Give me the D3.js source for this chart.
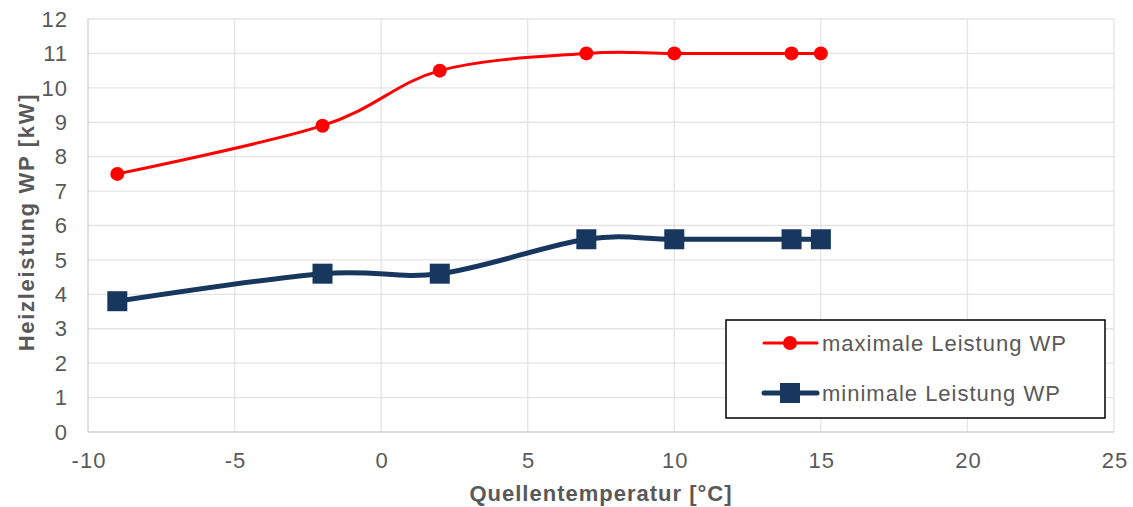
<!DOCTYPE html>
<html>
<head>
<meta charset="utf-8">
<script src="https://cdn.jsdelivr.net/npm/d3@7"></script>
<style>
  body { margin: 0; background: #fff; }
  svg text { font-family: "Liberation Sans", Arial, sans-serif; letter-spacing: 1px; }
</style>
</head>
<body>
<svg id="chart" width="1133" height="507"></svg>
<script>
// data
const temps = [-9, -2, 2, 7, 10, 14, 15];
const maxPower = [7.5, 8.9, 10.5, 11, 11, 11, 11];
const minPower = [3.8, 4.6, 4.6, 5.6, 5.6, 5.6, 5.6];
const xTicks = [-10, -5, 0, 5, 10, 15, 20, 25];
const yTicks = d3.range(0, 13);
const seriesNames = ['maximale Leistung WP', 'minimale Leistung WP'];

const svg = d3.select('svg#chart');

// plot area
const plotLeft = 88, plotRight = 1114, plotTop = 19, plotBottom = 432;
const fontSize = 22;
const gridColor = '#e4e4e4',
  axisColor = '#d0d0d0',
  labelColor = '#595959',
  red = '#ff0000',
  navy = '#17375e';

const x = d3.scaleLinear().domain([-10, 25]).range([plotLeft, plotRight]);
const y = d3.scaleLinear().domain([0, 12]).range([plotBottom, plotTop]);

// gridlines
svg.append('g')
  .selectAll('line')
  .data(yTicks.slice(1))
  .join('line')
  .attr('x1', plotLeft).attr('x2', plotRight)
  .attr('y1', d => y(d)).attr('y2', d => y(d))
  .attr('stroke', gridColor).attr('stroke-width', 1.3);

svg.append('g')
  .selectAll('line')
  .data(xTicks.slice(1))
  .join('line')
  .attr('x1', d => x(d)).attr('x2', d => x(d))
  .attr('y1', plotTop).attr('y2', plotBottom)
  .attr('stroke', gridColor).attr('stroke-width', 1.3);

// axes lines
svg.append('line')
  .attr('x1', plotLeft).attr('x2', plotLeft).attr('y1', plotTop).attr('y2', plotBottom)
  .attr('stroke', axisColor).attr('stroke-width', 1.3);
svg.append('line')
  .attr('x1', plotLeft).attr('x2', plotRight).attr('y1', plotBottom).attr('y2', plotBottom)
  .attr('stroke', axisColor).attr('stroke-width', 1.3);

// tick labels
svg.append('g')
  .selectAll('text')
  .data(yTicks)
  .join('text')
  .attr('x', plotLeft - 20)
  .attr('y', d => y(d))
  .attr('dy', '0.35em')
  .attr('text-anchor', 'end')
  .attr('font-size', fontSize)
  .attr('fill', labelColor)
  .text(d => d);

svg.append('g')
  .selectAll('text')
  .data(xTicks)
  .join('text')
  .attr('x', d => x(d) + 1)
  .attr('y', plotBottom + 36)
  .attr('text-anchor', 'middle')
  .attr('font-size', fontSize)
  .attr('fill', labelColor)
  .text(d => d);

// axis titles
svg.append('text')
  .attr('transform', 'translate(34, 222) rotate(-90)')
  .attr('text-anchor', 'middle')
  .attr('font-size', fontSize)
  .attr('font-weight', 'bold')
  .attr('fill', labelColor)
  .style('letter-spacing', '1.7px')
  .text('Heizleistung WP [kW]');

svg.append('text')
  .attr('x', (plotLeft + plotRight) / 2)
  .attr('y', 501)
  .attr('text-anchor', 'middle')
  .attr('font-size', fontSize)
  .attr('font-weight', 'bold')
  .attr('fill', labelColor)
  .text('Quellentemperatur [°C]');

// lines
const line = d3.line()
  .x(d => x(d[0]))
  .y(d => y(d[1]))
  .curve(d3.curveCardinal.tension(0));

const maxPts = temps.map((t, i) => [t, maxPower[i]]);
const minPts = temps.map((t, i) => [t, minPower[i]]);

svg.append('path')
  .datum(minPts)
  .attr('d', line)
  .attr('fill', 'none')
  .attr('stroke', navy)
  .attr('stroke-width', 5)
  .attr('stroke-linecap', 'round');

svg.append('g')
  .selectAll('rect')
  .data(minPts)
  .join('rect')
  .attr('x', d => x(d[0]) - 10)
  .attr('y', d => y(d[1]) - 10)
  .attr('width', 20)
  .attr('height', 20)
  .attr('fill', navy);

svg.append('path')
  .datum(maxPts)
  .attr('d', line)
  .attr('fill', 'none')
  .attr('stroke', red)
  .attr('stroke-width', 3)
  .attr('stroke-linecap', 'round');

svg.append('g')
  .selectAll('circle')
  .data(maxPts)
  .join('circle')
  .attr('cx', d => x(d[0]))
  .attr('cy', d => y(d[1]))
  .attr('r', 7)
  .attr('fill', red);

// legend
const legend = svg.append('g');
legend.append('rect')
  .attr('x', 726).attr('y', 320)
  .attr('width', 379).attr('height', 98)
  .attr('fill', '#fff')
  .attr('stroke', '#000')
  .attr('stroke-width', 1.5);

const legendY = [343, 393];
legend.append('line')
  .attr('x1', 764).attr('x2', 817).attr('y1', legendY[0]).attr('y2', legendY[0])
  .attr('stroke', red).attr('stroke-width', 3).attr('stroke-linecap', 'round');
legend.append('circle')
  .attr('cx', 790).attr('cy', legendY[0]).attr('r', 7).attr('fill', red);
legend.append('line')
  .attr('x1', 764).attr('x2', 817).attr('y1', legendY[1]).attr('y2', legendY[1])
  .attr('stroke', navy).attr('stroke-width', 5).attr('stroke-linecap', 'round');
legend.append('rect')
  .attr('x', 780).attr('y', legendY[1] - 10).attr('width', 20).attr('height', 20)
  .attr('fill', navy);

legend.selectAll('text.lbl')
  .data(seriesNames)
  .join('text')
  .attr('class', 'lbl')
  .attr('x', 822)
  .attr('y', (d, i) => legendY[i])
  .attr('dy', '0.35em')
  .attr('font-size', fontSize)
  .attr('fill', labelColor)
  .text(d => d);
</script>
</body>
</html>
